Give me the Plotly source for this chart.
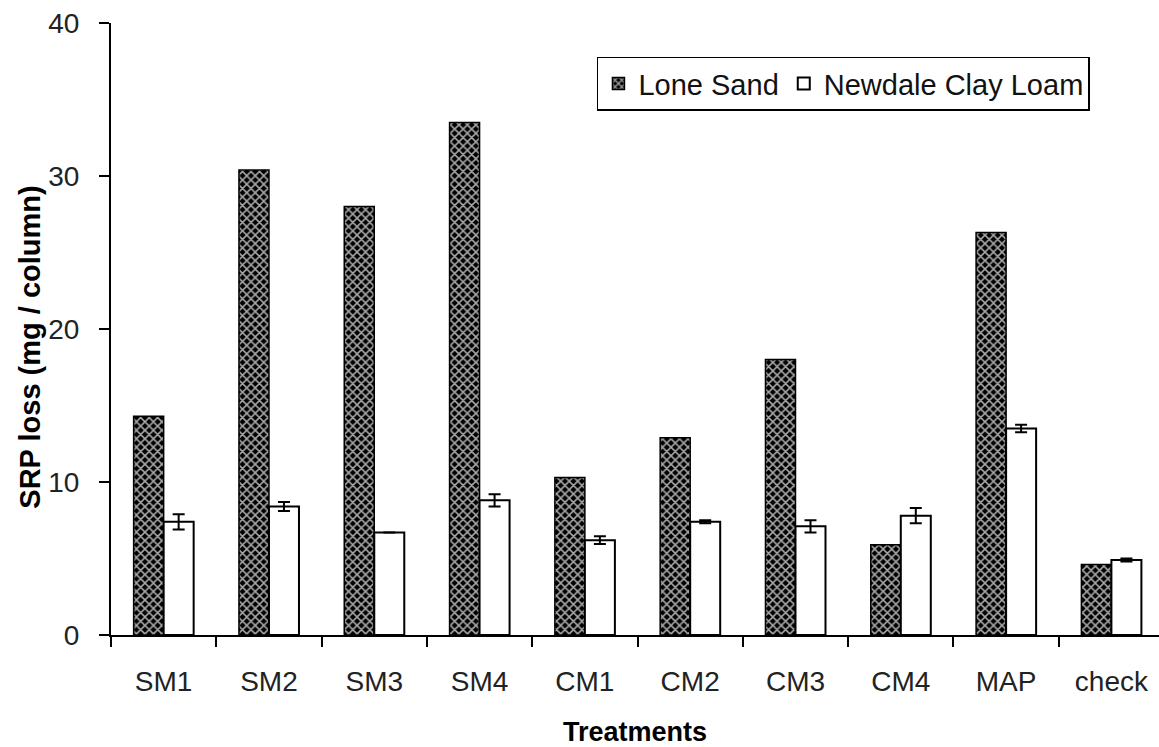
import plotly.graph_objects as go

# Treatments and measured SRP loss (mg per column)
treatments = ["SM1", "SM2", "SM3", "SM4", "CM1", "CM2", "CM3", "CM4", "MAP", "check"]
lone_sand = [14.3, 30.4, 28.0, 33.5, 10.3, 12.9, 18.0, 5.9, 26.3, 4.6]
newdale = [7.4, 8.4, 6.7, 8.8, 6.2, 7.4, 7.1, 7.8, 13.5, 4.9]
newdale_err = [0.5, 0.3, 0.0, 0.4, 0.25, 0.1, 0.4, 0.5, 0.25, 0.1]

FONT = "Liberation Sans, Arial, sans-serif"

fig = go.Figure()
fig.add_trace(go.Bar(
    x=treatments, y=lone_sand, name="Lone Sand",
    marker=dict(
        color="black",
        line=dict(color="black", width=1.5),
        pattern=dict(shape="x", bgcolor="black", fgcolor="#a8a8a8",
                     fgopacity=1, size=6, solidity=0.45),
    ),
))
fig.add_trace(go.Bar(
    x=treatments, y=newdale, name="Newdale Clay Loam",
    marker=dict(color="white", line=dict(color="black", width=2)),
    error_y=dict(type="data", array=newdale_err, visible=True,
                 color="black", thickness=2, width=6),
))

# Vertical axis title placed as a rotated annotation
fig.add_annotation(
    text="<b>SRP loss (mg / column)</b>", textangle=-90,
    xref="paper", yref="paper", x=-0.077, y=0.47,
    xanchor="center", yanchor="middle", showarrow=False,
    font=dict(size=29, color="black"),
)

fig.update_layout(
    width=1159, height=747,
    margin=dict(l=111, r=0, t=23, b=112),
    paper_bgcolor="white", plot_bgcolor="white",
    barmode="group", bargap=0.43, bargroupgap=0,
    font=dict(family=FONT, size=28, color="black"),
    showlegend=True,
    legend=dict(
        orientation="h", x=0.4637, y=0.945, xanchor="left", yanchor="top",
        bgcolor="white", bordercolor="black", borderwidth=1.5,
        font=dict(size=29, color="#111"), itemwidth=30, tracegroupgap=0,
    ),
    xaxis=dict(
        range=[-0.5, 9.452], showline=True, linecolor="black", linewidth=2,
        ticks="outside", tickson="boundaries", ticklen=10, tickwidth=2,
        tickcolor="black", showgrid=False, ticklabelstandoff=20,
        tickfont=dict(size=28, color="#222"),
        title=dict(text="<b>Treatments</b>", font=dict(size=27), standoff=28),
    ),
    yaxis=dict(
        range=[0, 40], dtick=10, showline=True, linecolor="black", linewidth=2,
        ticks="outside", ticklen=10, tickwidth=2, tickcolor="black",
        showgrid=False, zeroline=False, ticklabelstandoff=14,
        tickfont=dict(size=28, color="#222"),
    ),
)

fig.write_html("out.html")
